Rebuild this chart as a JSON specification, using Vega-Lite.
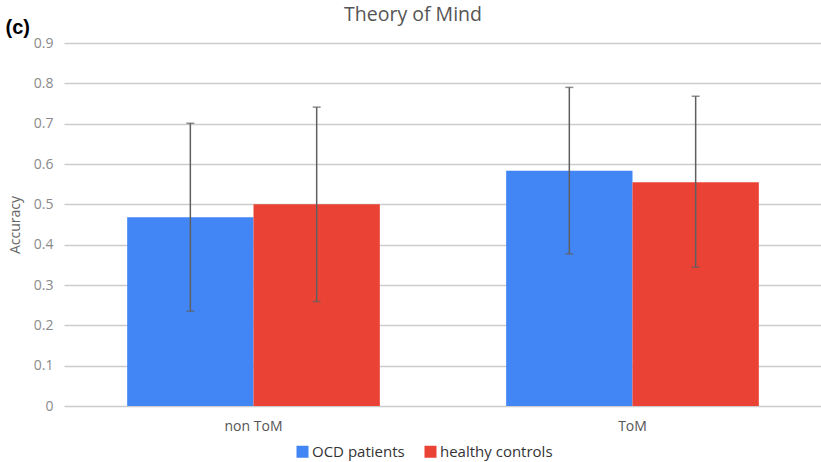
{
  "$schema": "https://vega.github.io/schema/vega-lite/v6.json",
  "autosize": {"type": "none"},
  "padding": {"left": 64, "top": 43, "right": 0, "bottom": 56},
  "width": 758,
  "height": 363,
  "background": "white",
  "config": {"view": {"stroke": null}, "font": "Open Sans"},
  "title": {"text": "Theory of Mind", "anchor": "middle", "frame": "group", "dx": -30, "fontSize": 19.5, "fontWeight": "normal", "color": "#555555", "font": "Open Sans", "baseline": "alphabetic", "offset": -23},
  "data": {"values": [
    {"cond": "non ToM", "group": "OCD patients", "acc": 0.468, "lo": 0.235, "hi": 0.701},
    {"cond": "non ToM", "group": "healthy controls", "acc": 0.500, "lo": 0.259, "hi": 0.741},
    {"cond": "ToM", "group": "OCD patients", "acc": 0.583, "lo": 0.377, "hi": 0.790},
    {"cond": "ToM", "group": "healthy controls", "acc": 0.555, "lo": 0.344, "hi": 0.768}
  ]},
  "resolve": {"axis": {"x": "independent"}},
  "layer": [
    {
      "mark": {"type": "bar"},
      "encoding": {
        "x": {"field": "cond", "type": "nominal", "sort": ["non ToM", "ToM"],
              "scale": {"paddingInner": 0.3333, "paddingOuter": 0.1667},
              "axis": {"orient": "bottom", "title": null, "labelAngle": 0, "ticks": false, "domain": false, "grid": false, "labelPadding": 13, "labelFontSize": 14, "labelColor": "#555555", "labelFont": "Open Sans"}},
        "xOffset": {"field": "group", "type": "nominal", "sort": ["OCD patients", "healthy controls"], "scale": {"paddingInner": 0, "paddingOuter": 0}},
        "y": {"field": "acc", "type": "quantitative",
              "scale": {"domain": [0, 0.9], "nice": false, "zero": true},
              "axis": {"title": "Accuracy", "values": [0, 0.1, 0.2, 0.3, 0.4, 0.5, 0.6, 0.7, 0.8, 0.9], "format": ".1~f", "ticks": false, "domain": false, "grid": true, "gridColor": "#cccccc", "gridWidth": 1.5, "labelPadding": 11, "labelFontSize": 14, "labelColor": "#8a8a8a", "labelFont": "Open Sans", "titleFont": "Open Sans", "titleFontSize": 14, "titleFontWeight": "normal", "titleColor": "#666666", "titleX": -45, "titleBaseline": "alphabetic"}},
        "color": {"field": "group", "type": "nominal", "sort": ["OCD patients", "healthy controls"],
                  "scale": {"domain": ["OCD patients", "healthy controls"], "range": ["#4285F4", "#EA4335"]},
                  "legend": {"title": null, "orient": "none", "direction": "horizontal", "legendX": 231, "legendY": 401, "symbolType": "square", "symbolSize": 144, "symbolStrokeWidth": 0, "symbolOpacity": 1, "labelFontSize": 15, "labelColor": "#333333", "labelFont": "Open Sans", "labelOffset": 2, "columnPadding": 18}}
      }
    },
    {
      "mark": {"type": "rule", "color": "#5f5f5f", "strokeWidth": 1.5},
      "encoding": {
        "x": {"field": "cond", "type": "nominal", "sort": ["non ToM", "ToM"],
              "axis": {"orient": "top", "title": "(c)", "labels": false, "ticks": false, "domain": false, "grid": false, "titleX": -59, "titleY": -10, "titleAlign": "left", "titleBaseline": "alphabetic", "titleFont": "Liberation Sans", "titleFontSize": 20, "titleFontWeight": "bold", "titleColor": "#000000"}},
        "xOffset": {"field": "group", "type": "nominal", "sort": ["OCD patients", "healthy controls"]},
        "y": {"field": "lo", "type": "quantitative"},
        "y2": {"field": "hi"}
      }
    },
    {
      "mark": {"type": "tick", "color": "#5f5f5f", "size": 8, "thickness": 1.5},
      "encoding": {
        "x": {"field": "cond", "type": "nominal", "sort": ["non ToM", "ToM"], "axis": null},
        "xOffset": {"field": "group", "type": "nominal", "sort": ["OCD patients", "healthy controls"]},
        "y": {"field": "lo", "type": "quantitative"}
      }
    },
    {
      "mark": {"type": "tick", "color": "#5f5f5f", "size": 8, "thickness": 1.5},
      "encoding": {
        "x": {"field": "cond", "type": "nominal", "sort": ["non ToM", "ToM"], "axis": null},
        "xOffset": {"field": "group", "type": "nominal", "sort": ["OCD patients", "healthy controls"]},
        "y": {"field": "hi", "type": "quantitative"}
      }
    }
  ]
}
